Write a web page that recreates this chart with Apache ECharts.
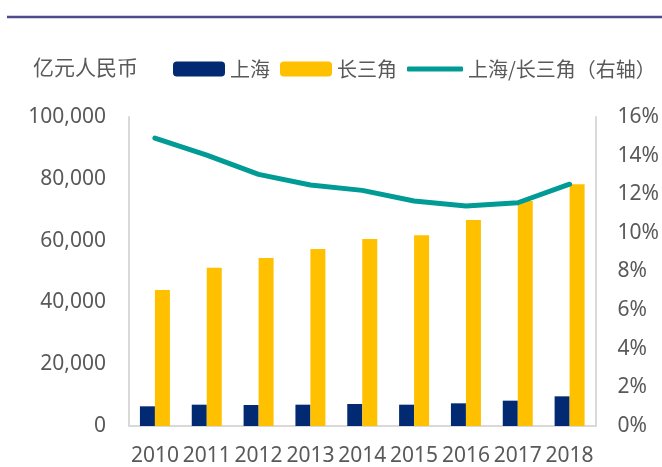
<!DOCTYPE html>
<html>
<head>
<meta charset="utf-8">
<script src="https://cdn.jsdelivr.net/npm/echarts@6/dist/echarts.min.js"></script>
<style>
html,body{margin:0;padding:0;background:#fff;}
#main{width:662px;height:467px;}
</style>
</head>
<body>
<div id="main"></div>
<script>
var years = ['2010','2011','2012','2013','2014','2015','2016','2017','2018'];
var shanghai = [6370, 6900, 6800, 6900, 7120, 6900, 7340, 8200, 9600];
var yrd = [44000, 51200, 54400, 57300, 60500, 61700, 66700, 72800, 78200];
var ratio = [14.91, 14.03, 13.03, 12.48, 12.20, 11.65, 11.39, 11.56, 12.52];
var unitLabel = '亿元人民币';
var nameSH = '上海', nameYRD = '长三角', nameRatio = '上海/长三角（右轴）';

var cjk = '"Noto Sans CJK SC", "Noto Sans", sans-serif';
var numFont = '"Noto Sans", "Liberation Sans", sans-serif';
var gray = '#595959';

var chart = echarts.init(document.getElementById('main'), null, {renderer: 'canvas'});
chart.setOption({
  animation: false,
  backgroundColor: '#fff',
  grid: {left: 129, right: 62, top: 117, bottom: 41, containLabel: false},
  graphic: [
    {type: 'line', shape: {x1: 7, y1: 17, x2: 662, y2: 17},
     style: {stroke: '#4E4A8C', lineWidth: 2.5}},
    {type: 'text', left: 33, top: 57,
     style: {text: unitLabel, font: '21px ' + cjk, fill: gray}}
  ],
  legend: [
    {data: [nameSH], left: 173, top: 59, padding: 0, itemWidth: 52, itemHeight: 15, itemGap: 0,
     textStyle: {fontSize: 20, color: gray, fontFamily: cjk}},
    {data: [nameYRD], left: 280, top: 59, padding: 0, itemWidth: 52, itemHeight: 15, itemGap: 0,
     textStyle: {fontSize: 20, color: gray, fontFamily: cjk}},
    {data: [{name: nameRatio, icon: 'roundRect'}], left: 407, top: 59, padding: 0, itemWidth: 56, itemHeight: 5, itemGap: 0,
     textStyle: {fontSize: 20, color: gray, fontFamily: cjk}}
  ],
  xAxis: {
    type: 'category', data: years,
    axisLine: {show: true, lineStyle: {color: '#D9D9D9', width: 2}},
    axisTick: {show: false},
    axisLabel: {fontSize: 21, color: gray, fontFamily: numFont, margin: 20, interval: 0},
    splitLine: {show: false}
  },
  yAxis: [
    {type: 'value', min: 0, max: 100000, interval: 20000, position: 'left',
     axisLine: {show: true, lineStyle: {color: '#D9D9D9', width: 2}},
     axisTick: {show: false}, splitLine: {show: false},
     axisLabel: {fontSize: 21, color: gray, fontFamily: numFont, margin: 23,
       formatter: function(v){ return v.toString().replace(/\B(?=(\d{3})+(?!\d))/g, ','); }}},
    {type: 'value', min: 0, max: 16, interval: 2, position: 'right',
     axisLine: {show: true, lineStyle: {color: '#D9D9D9', width: 2}},
     axisTick: {show: false}, splitLine: {show: false},
     axisLabel: {fontSize: 21, color: gray, fontFamily: numFont, margin: 22, formatter: '{value}%'}}
  ],
  series: [
    {name: nameSH, type: 'bar', data: shanghai, barWidth: 15, barGap: '0%',
     itemStyle: {color: '#022A73'}},
    {name: nameYRD, type: 'bar', data: yrd, barWidth: 15, barGap: '0%',
     itemStyle: {color: '#FFC000'}},
    {name: nameRatio, type: 'line', yAxisIndex: 1, data: ratio, symbol: 'none', showSymbol: false,
     lineStyle: {color: '#009B95', width: 5, cap: 'round', join: 'round'},
     itemStyle: {color: '#009B95'}}
  ]
});
</script>
</body>
</html>
